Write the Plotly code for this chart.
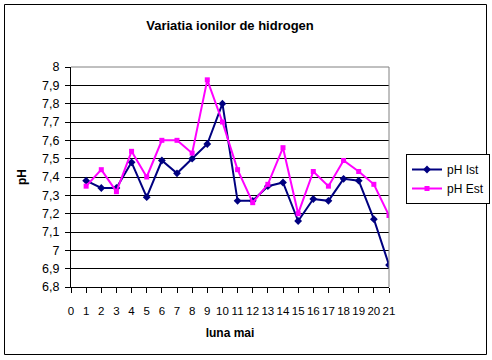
import plotly.graph_objects as go

days = list(range(1, 22))
ph_ist = [7.38, 7.34, 7.34, 7.48, 7.29, 7.49, 7.42, 7.50, 7.58, 7.80,
          7.27, 7.27, 7.35, 7.37, 7.16, 7.28, 7.27, 7.39, 7.38, 7.17, 6.92]
ph_est = [7.35, 7.44, 7.32, 7.54, 7.40, 7.60, 7.60, 7.53, 7.93, 7.70,
          7.44, 7.26, 7.36, 7.56, 7.20, 7.43, 7.35, 7.49, 7.43, 7.36, 7.19]
x_ticks = list(range(0, 22))
y_ticks = [round(6.8 + 0.1 * i, 1) for i in range(13)]
y_labels = [("%g" % v).replace(".", ",") for v in y_ticks]

FONT = "Liberation Sans, Arial, sans-serif"

fig = go.Figure()
fig.add_trace(go.Scatter(x=days, y=ph_ist, name="pH Ist", mode="lines+markers",
                         line=dict(color="#000080", width=2),
                         marker=dict(symbol="diamond", size=6, color="#000080")))
fig.add_trace(go.Scatter(x=days, y=ph_est, name="pH Est", mode="lines+markers",
                         line=dict(color="#FF00FF", width=2),
                         marker=dict(symbol="square", size=5, color="#FF00FF")))

W, H = 492, 360
L, R, T, B = 71, 389, 67, 287
pw, ph = R - L, B - T

def px(xp):
    return (xp - L) / pw

def py(yp):
    return (B - yp) / ph

shapes = [
    # gray plot border top/right
    dict(type="line", xref="paper", yref="paper", x0=0, x1=1, y0=1, y1=1,
         line=dict(color="#808080", width=1)),
    dict(type="line", xref="paper", yref="paper", x0=1, x1=1, y0=0, y1=1,
         line=dict(color="#808080", width=1)),
    # outer chart border
    dict(type="rect", xref="paper", yref="paper", x0=px(4.5), x1=px(486.5),
         y0=py(354.5), y1=py(4.5), line=dict(color="black", width=1),
         layer="above"),
]

fig.update_layout(
    width=W, height=H,
    margin=dict(l=L, r=W - R, t=T, b=H - B, pad=0, autoexpand=False),
    paper_bgcolor="white", plot_bgcolor="white",
    font=dict(family=FONT, size=11, color="black"),
    title=dict(text="<b>Variatia ionilor de hidrogen</b>", x=0.5, xref="paper",
               xanchor="center", y=1 - 25 / H, yanchor="middle",
               font=dict(size=13, family=FONT)),
    xaxis=dict(range=[0, 21], tickvals=x_ticks, ticktext=[str(v) for v in x_ticks],
               showgrid=False, zeroline=False, showline=True, linecolor="black",
               linewidth=1, ticks="outside", ticklen=5, tickcolor="black",
               tickfont=dict(size=11.5), ticklabelstandoff=8, automargin=False,
               title=dict(text="<b>luna mai</b>", font=dict(size=12), standoff=12)),
    yaxis=dict(range=[6.8, 8.0], tickvals=y_ticks, ticktext=y_labels,
               showgrid=True, gridcolor="black", gridwidth=1, zeroline=False,
               showline=True, linecolor="black", linewidth=1,
               ticks="outside", ticklen=5, tickcolor="black",
               tickfont=dict(size=12.5), automargin=False, ticklabelstandoff=3,
               title=dict(text="<b>pH</b>", font=dict(size=12), standoff=12)),
    legend=dict(x=px(406), y=py(154), xanchor="left", yanchor="top",
                bordercolor="black", borderwidth=1, bgcolor="white",
                font=dict(size=12), itemwidth=30, tracegroupgap=4),
    shapes=shapes,
    showlegend=True,
)

fig.write_html("out.html", config={"displayModeBar": False},
               post_script="document.body.style.margin='0';document.body.style.overflow='hidden';")
